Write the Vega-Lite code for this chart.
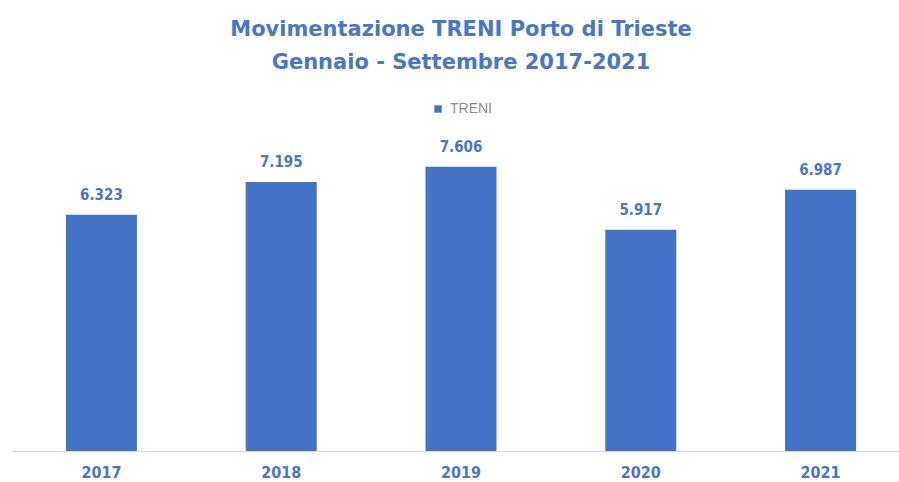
{
  "$schema": "https://vega.github.io/schema/vega-lite/v6.json",
  "width": 898,
  "height": 299,
  "autosize": "none",
  "padding": {"left": 12, "top": 152, "right": 0, "bottom": 31},
  "background": "white",
  "config": {
    "view": {"stroke": null},
    "locale": {"number": {"decimal": ",", "thousands": ".", "grouping": [3], "currency": ["€", ""]}}
  },
  "title": {
    "text": ["Movimentazione TRENI Porto di Trieste", "Gennaio - Settembre 2017-2021"],
    "font": "DejaVu Sans",
    "fontSize": 21,
    "fontWeight": "bold",
    "color": "#4a76c9",
    "lineHeight": 33,
    "offset": 29,
    "anchor": "middle"
  },
  "data": {
    "values": [
      {"anno": "2017", "serie": "TRENI", "treni": 6323},
      {"anno": "2018", "serie": "TRENI", "treni": 7195},
      {"anno": "2019", "serie": "TRENI", "treni": 7606},
      {"anno": "2020", "serie": "TRENI", "treni": 5917},
      {"anno": "2021", "serie": "TRENI", "treni": 6987}
    ]
  },
  "encoding": {
    "x": {
      "field": "anno",
      "type": "nominal",
      "scale": {"paddingInner": 0.605, "paddingOuter": 0.3},
      "axis": {
        "title": null,
        "labelAngle": 0,
        "ticks": false,
        "domainColor": "#d9d9d9",
        "domainWidth": 1,
        "labelColor": "#4a76c9",
        "labelFont": "DejaVu Sans Condensed",
        "labelFontWeight": "bold",
        "labelFontSize": 16,
        "labelPadding": 13
      }
    },
    "y": {
      "field": "treni",
      "type": "quantitative",
      "scale": {"domain": [0, 8000]},
      "axis": null
    }
  },
  "layer": [
    {
      "mark": {"type": "bar", "color": "#4472c4"},
      "encoding": {
        "color": {
          "field": "serie",
          "type": "nominal",
          "scale": {"range": ["#4472c4"]},
          "legend": {
            "title": null,
            "orient": "none",
            "legendX": 419,
            "legendY": -50,
            "symbolType": "square",
            "symbolSize": 55,
            "labelFont": "Liberation Sans",
            "labelFontSize": 14,
            "labelColor": "#8a8a8a",
            "labelOffset": 5
          }
        }
      }
    },
    {
      "mark": {
        "type": "text",
        "baseline": "alphabetic",
        "dy": -15,
        "font": "DejaVu Sans Condensed",
        "fontWeight": "bold",
        "fontSize": 15,
        "color": "#4a76c9"
      },
      "encoding": {"text": {"field": "treni", "type": "quantitative", "format": ",d"}}
    }
  ]
}
